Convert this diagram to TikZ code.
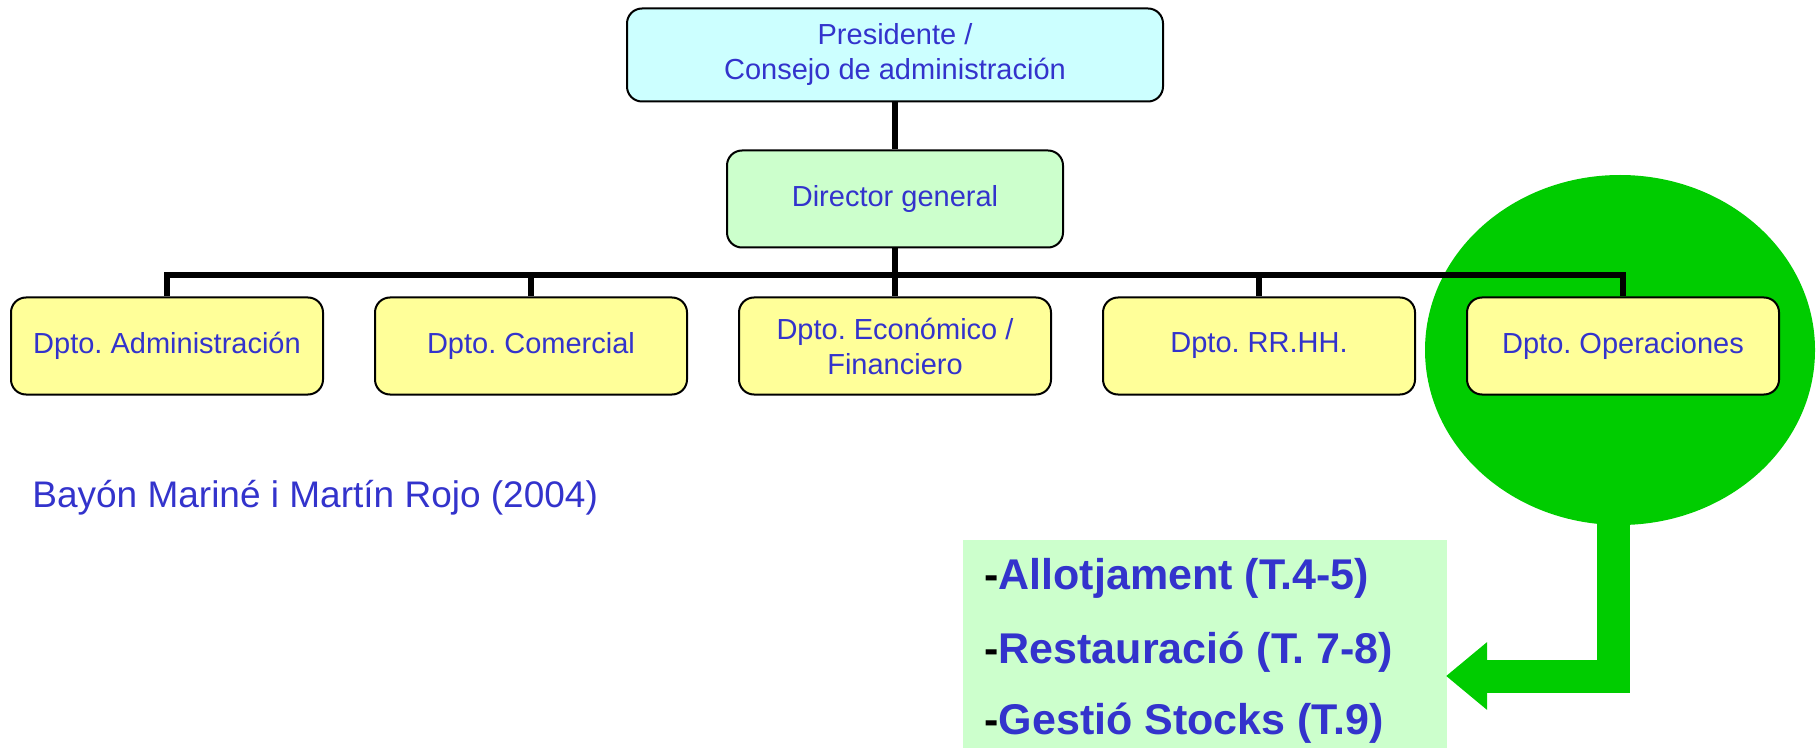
\documentclass[tikz,border=0pt]{standalone}
\usepackage{fontspec}
\setmainfont{Liberation Sans}
\usepackage{xcolor}
\usetikzlibrary{arrows.meta,calc,positioning,shapes.geometric}
\frenchspacing
\definecolor{txtblue}{HTML}{3333CC}
\definecolor{presfill}{HTML}{CCFFFF}
\definecolor{dirfill}{HTML}{CCFFCC}
\definecolor{deptfill}{HTML}{FFFF99}
\definecolor{opgreen}{HTML}{00CC00}
\definecolor{listfill}{HTML}{CCFFCC}
\tikzset{%
	box/.style     = {draw, rounded corners=7.5pt, line width=1pt, text=txtblue, align=center, font=\fontsize{14.5}{17.5}\selectfont, minimum height=48.5pt},
	pres/.style    = {box, fill=presfill, minimum width=268pt, minimum height=46.5pt}, % Top
	dir/.style     = {box, fill=dirfill, minimum width=168pt},
	dept/.style    = {box, fill=deptfill, minimum width=156pt}, % Departments
	oval/.style    = {ellipse, fill=opgreen, minimum width=195pt, minimum height=175pt, inner sep=0pt},
	listbox/.style = {rectangle, fill=listfill, minimum width=242pt, minimum height=115pt, anchor=north west},
	item/.style    = {anchor=base west, text=txtblue, font=\fontsize{21.5}{26}\selectfont\bfseries, inner sep=0pt},
	cite/.style    = {anchor=base west, text=txtblue, font=\fontsize{18.5}{22}\selectfont, inner sep=0pt},
	link/.style    = {line width=3pt},
	flow/.style    = {draw=opgreen, line width=16.5pt, -{Triangle[length=20.5pt,width=32.5pt]}},
}
\begin{document}
\begin{tikzpicture}[x=0.5pt,y=-0.5pt,node distance=23.5pt and 25pt]
		\useasboundingbox (0,0) rectangle (1818,748);
		\node[oval] (oval) at (1620,350) {};
		\node[pres] (pres) at (895,55) {Presidente /\\Consejo de administración};
		\node[dir, below=of pres] (dg) {Director general};
		\node[dept, below=24pt of dg] (econ) {Dpto. Económico /\\Financiero};
		\node[dept, left=of econ] (com) {Dpto. Comercial};
		\node[dept, left=of com] (adm) {Dpto. Administración};
		\node[dept, right=of econ] (rrhh) {Dpto. RR.HH.};
		\node[dept, right=of rrhh] (oper) {Dpto. Operaciones};
		\coordinate (bus) at ($(dg.south)!0.55!(econ.north)$);
		\draw[link] (pres) -- (dg);
		\draw[link] (dg) -- (econ);
		\draw[link] (adm.north) |- (bus) -| (oper.north);
		\foreach \d in {com,rrhh}
			\draw[link] (\d.north) -- (\d.north |- bus);
		\node[cite] (ref) at (32,507) {Bayón Mariné i Martín Rojo (2004)};
		% tasks of the operations department
		\node[listbox] (list) at (963,540) {};
		\node[item] (it1) at ($(list.north west)+(21,49)$) {{\color{black}-}Allotjament (T.4-5)};
		\node[item] (it2) at ($(list.north west)+(21,123)$) {{\color{black}-}Restauració (T. 7-8)};
		\node[item] (it3) at ($(list.north west)+(21,194)$) {{\color{black}-}Gestió Stocks (T.9)};
		\coordinate (tip) at (1446,676);
		\draw[flow] ([xshift=-3.5pt,yshift=3pt]oval.south) |- (tip);
\end{tikzpicture}
\end{document}
